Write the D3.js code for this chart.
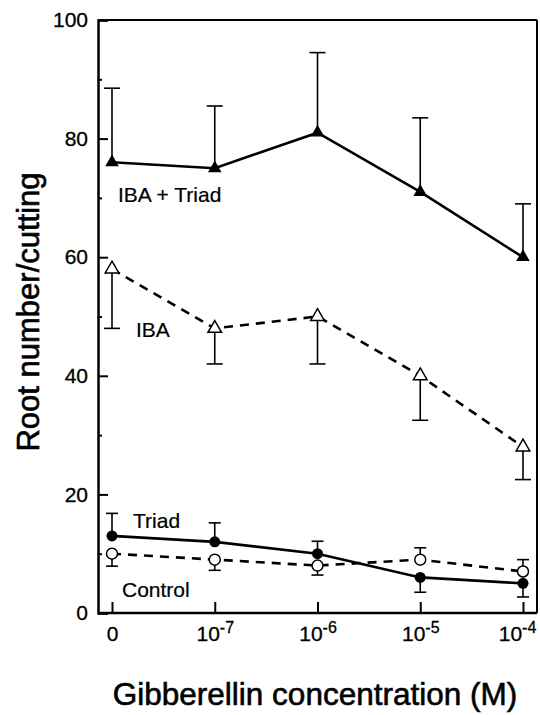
<!DOCTYPE html>
<html><head><meta charset="utf-8">
<script src="https://cdn.jsdelivr.net/npm/d3@7"></script>
<style>body{margin:0;background:#fff}svg{display:block}text{font-family:"Liberation Sans",Arial,sans-serif;fill:#000}</style>
</head><body><svg id="c" width="540" height="715"></svg>
<script>
const categories = ["0","-7","-6","-5","-4"];
const ibaTriad = [76, 75, 81, 71, 60];
const ibaTriadErrTip = [88.5, 85.5, 94.5, 83.5, 69];
const iba = [58, 48, 50, 40, 28];
const ibaErrTip = [48, 42, 42, 32.5, 22.5];
const triad = [13, 12, 10, 6, 5];
const triadErrTip = [16.8, 15.2, 12.1, 3.5, 2.7];
const control = [10, 9, 8, 9, 7];
const controlErrTip = [7.9, 7.2, 6.4, 11, 9];
const yMajor = [0, 20, 40, 60, 80, 100];
const yMinor = [10, 30, 50, 70, 90];

const svg = d3.select("#c");
const L = 98, R = 537, T = 20, B = 613;
const x = d3.scalePoint().domain(categories).range([112, 523]);
const y = d3.scaleLinear().domain([0, 100]).range([B, T]);

// frame
svg.append("line").attr("x1", L).attr("x2", R).attr("y1", T).attr("y2", T).attr("stroke", "#000").attr("stroke-width", 2);
svg.append("line").attr("x1", R).attr("x2", R).attr("y1", T).attr("y2", B).attr("stroke", "#000").attr("stroke-width", 2);

// y axis
const yAx = svg.append("g").attr("transform", `translate(${L},0)`)
  .call(d3.axisLeft(y).tickValues(yMajor).tickSize(-10).tickPadding(10).tickFormat(d3.format("d")));
yAx.select(".domain").attr("stroke-width", 2.5);
yAx.selectAll(".tick line").attr("stroke-width", 2);
yAx.selectAll(".tick text").attr("font-size", 21).attr("font-family", "Liberation Sans, Arial, sans-serif")
  .attr("stroke", "#000").attr("stroke-width", 0.3);
const yAxMin = svg.append("g").attr("transform", `translate(${L},0)`)
  .call(d3.axisLeft(y).tickValues(yMinor).tickSize(-4).tickFormat(""));
yAxMin.select(".domain").remove();
yAxMin.selectAll(".tick line").attr("stroke-width", 2);

// x axis
const xAx = svg.append("g").attr("transform", `translate(0,${B})`)
  .call(d3.axisBottom(x).tickSize(-11).tickSizeOuter(0).tickPadding(10).tickFormat(""));
xAx.select(".domain").attr("d", `M${L},0H${R}`).attr("stroke-width", 2.5);
xAx.selectAll(".tick line").attr("stroke-width", 2);
xAx.selectAll(".tick").each(function(d, i) {
  const t = d3.select(this).append("text").attr("y", 28).attr("text-anchor", "middle").attr("font-size", 21)
    .attr("x", i === categories.length - 1 ? -6 : 0)
    .attr("fill", "#000").attr("stroke", "#000").attr("stroke-width", 0.3);
  if (d === "0") t.text("0");
  else { t.append("tspan").text("10"); t.append("tspan").attr("dy", -8).attr("font-size", 16).text(d); }
});

// error bars
function errBars(vals, tips, w) {
  const g = svg.append("g");
  vals.forEach((v, i) => {
    const cx = x(categories[i]);
    g.append("line").attr("x1", cx).attr("x2", cx).attr("y1", y(v)).attr("y2", y(tips[i])).attr("stroke", "#000").attr("stroke-width", 1.6);
    g.append("line").attr("x1", cx - w).attr("x2", cx + w).attr("y1", y(tips[i])).attr("y2", y(tips[i])).attr("stroke", "#000").attr("stroke-width", 1.6);
  });
}
errBars(ibaTriad, ibaTriadErrTip, 8);
errBars(iba, ibaErrTip, 8);
errBars(triad, triadErrTip, 6);
errBars(control, controlErrTip, 6);

const line = d3.line().x((d, i) => x(categories[i])).y(d => y(d));
function series(vals, dashed) {
  svg.append("path").attr("d", line(vals)).attr("fill", "none").attr("stroke", "#000")
    .attr("stroke-width", 2.6).attr("stroke-dasharray", dashed ? "9,7" : null);
}
series(ibaTriad, false);
series(iba, true);
series(triad, false);
series(control, true);

const tri = d3.symbol().type(d3.symbolTriangle).size(80);
ibaTriad.forEach((v, i) => svg.append("path").attr("d", tri()).attr("transform", `translate(${x(categories[i])},${y(v)})`).attr("fill", "#000"));
iba.forEach((v, i) => svg.append("path").attr("d", tri()).attr("transform", `translate(${x(categories[i])},${y(v)})`).attr("fill", "#fff").attr("stroke", "#000").attr("stroke-width", 1.5));
triad.forEach((v, i) => svg.append("circle").attr("cx", x(categories[i])).attr("cy", y(v)).attr("r", 5.5).attr("fill", "#000"));
control.forEach((v, i) => svg.append("circle").attr("cx", x(categories[i])).attr("cy", y(v)).attr("r", 5.5).attr("fill", "#fff").attr("stroke", "#000").attr("stroke-width", 1.5));

// series labels
const lab = (t, lx, ly) => svg.append("text").attr("x", lx).attr("y", ly).attr("font-size", 21)
  .attr("stroke", "#000").attr("stroke-width", 0.2).text(t);
lab("IBA + Triad", 118, 202);
lab("IBA", 136, 337);
lab("Triad", 133, 528);
lab("Control", 122, 597);

// axis titles
svg.append("text").attr("transform", "translate(39,312) rotate(-90)").attr("text-anchor", "middle").attr("font-size", 31)
  .attr("stroke", "#000").attr("stroke-width", 0.6).text("Root number/cutting");
svg.append("text").attr("x", 315).attr("y", 705).attr("text-anchor", "middle").attr("font-size", 31.5)
  .attr("stroke", "#000").attr("stroke-width", 0.6).text("Gibberellin concentration (M)");
</script></body></html>
